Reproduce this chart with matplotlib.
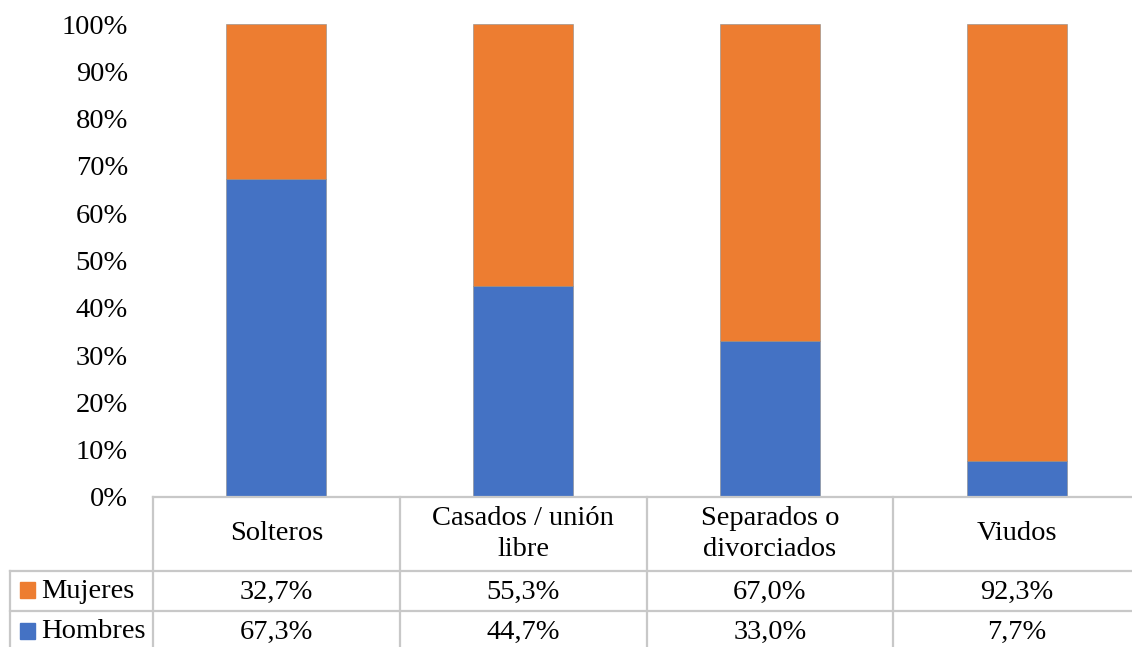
import matplotlib.pyplot as plt
import numpy as np
from matplotlib.patches import Rectangle

categories = ["Solteros", "Casados / unión\nlibre", "Separados o\ndivorciados", "Viudos"]
mujeres = [32.7, 55.3, 67.0, 92.3]
hombres = [67.3, 44.7, 33.0, 7.7]
mujeres_labels = ["32,7%", "55,3%", "67,0%", "92,3%"]
hombres_labels = ["67,3%", "44,7%", "33,0%", "7,7%"]
yticks = [0, 10, 20, 30, 40, 50, 60, 70, 80, 90, 100]

ORANGE = "#ED7D31"
BLUE = "#4472C4"
GRID = "#C8C8C8"
W, H = 1132, 647

plt.rcParams['font.family'] = ['Liberation Serif', 'DejaVu Serif']

fig = plt.figure( figsize=(W / 100, H / 100), dpi=100 )

# bar area (pixel layout of the reference); last column runs past the right edge
left, right, bottom, top = 153, 1140, 497, 24
ax = fig.add_axes( [left / W, 1 - bottom / H, (right - left) / W, (bottom - top) / H] )
x = np.arange( len( categories ) )
h = np.array( hombres ) / 100
m = np.array( mujeres ) / 100
ax.bar( x, h, width=0.405, color=BLUE, edgecolor="#8A8A8A", linewidth=0.4 )
ax.bar( x, m, bottom=h, width=0.405, color=ORANGE, edgecolor="#8A8A8A", linewidth=0.4 )
ax.set_xlim( -0.5, len( categories ) - 0.5 )
ax.set_ylim( 0, 1 )
ax.set_yticks( [t / 100 for t in yticks] )
ax.set_yticklabels( ["%d%%" % t for t in yticks], fontsize=20.5 )
ax.tick_params( axis='y', length=0, pad=18 )
ax.set_xticks( [] )
for s in ax.spines.values():
    s.set_visible( False )

# data table below the bars
tx = fig.add_axes( [0, 0, 1, 1] )
tx.set_xlim( 0, W )
tx.set_ylim( H, 0 )
tx.axis( 'off' )

col_edges = [left + (right - left) * i / len( categories ) for i in range( len( categories ) + 1 )]
row_head, row_m, row_h = 497, 571, 611
lw = 1.6
tx.plot( [left, W], [row_head, row_head], color=GRID, lw=lw )
tx.plot( [10, W], [row_m, row_m], color=GRID, lw=lw )
tx.plot( [10, W], [row_h, row_h], color=GRID, lw=lw )
tx.plot( [10, 10], [row_m, H], color=GRID, lw=lw )
for xe in col_edges[:-1]:
    tx.plot( [xe, xe], [row_head, H], color=GRID, lw=lw )

for i, cat in enumerate( categories ):
    cx = (col_edges[i] + col_edges[i + 1]) / 2
    tx.text( cx, (row_head + row_m) / 2, cat, ha='center', va='center', fontsize=20.5, linespacing=1.3 )
    tx.text( cx, (row_m + row_h) / 2 + 1, mujeres_labels[i], ha='center', va='center', fontsize=20.5 )
    tx.text( cx, row_h + 21, hombres_labels[i], ha='center', va='center', fontsize=20.5 )

tx.add_patch( Rectangle( (20, 582), 15, 16, color=ORANGE ) )
tx.text( 41, (row_m + row_h) / 2 + 1, "Mujeres", ha='left', va='center', fontsize=20.5 )
tx.add_patch( Rectangle( (20, 623), 15, 16, color=BLUE ) )
tx.text( 41, row_h + 21, "Hombres", ha='left', va='center', fontsize=20.5 )

fig.savefig( "out.png", dpi=100 )
